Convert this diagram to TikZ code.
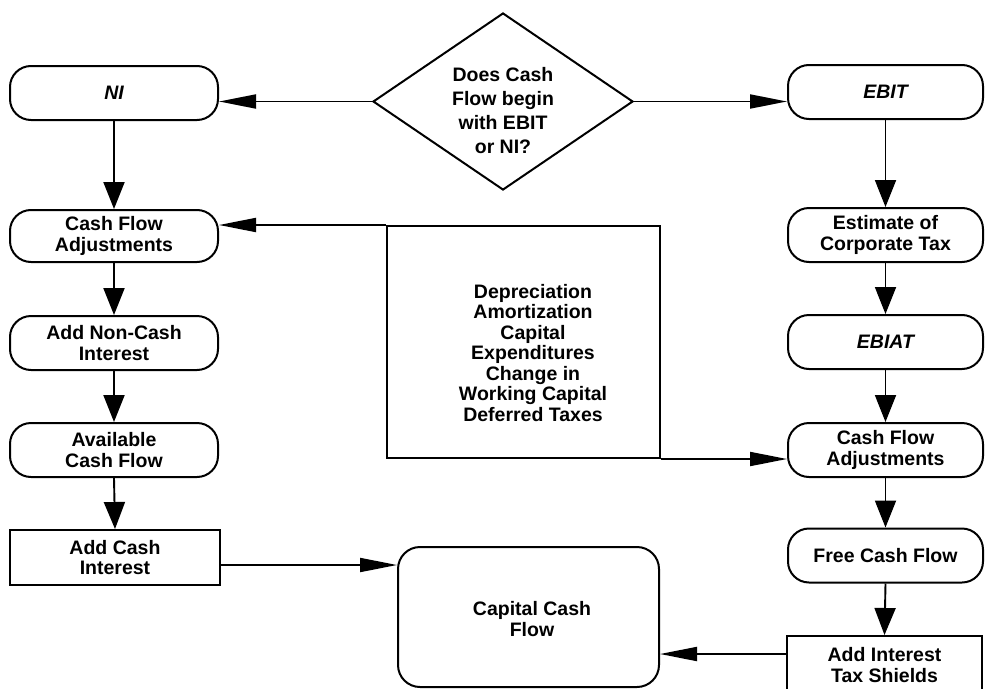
\documentclass[tikz,border=0pt]{standalone}
\usepackage{fontspec}
\setmainfont{Liberation Sans}
\usetikzlibrary{arrows.meta,shapes.geometric}
\tikzset{
  txt/.style={font={\fontsize{19.5}{20.5}\selectfont\bfseries}, align=center, inner sep=0pt},
  pill/.style={txt, draw, line width=2pt, rounded corners=21pt, minimum width=208pt, minimum height=54pt},
  rpill/.style={pill, minimum width=195pt},
  sqbox/.style={txt, draw, line width=2pt},
  harrow/.style={-{Triangle[length=37pt,width=14pt]}, line width=1.9pt},
  varrow/.style={-{Triangle[length=27pt,width=21pt]}, line width=1.9pt},
}
\begin{document}
\begin{tikzpicture}[x=1pt,y=-1pt]
\useasboundingbox (0,0) rectangle (985,688);
\clip (0,0) rectangle (985,688);
% decision
\node[draw, diamond, line width=2pt, inner sep=0pt, minimum width=260pt, minimum height=177pt] (dia) at (503,101.5) {};
\node[txt, font={\fontsize{19.5}{24}\selectfont\bfseries}] (diatxt) at (503,111) {Does Cash\\Flow begin\\with EBIT\\or NI?};
% left column
\node[pill] (ni) at (114,93) {\itshape NI};
\node[pill, minimum height=52pt] (cfaL) at (114,236) {Cash Flow\\Adjustments};
\node[pill] (nonc) at (114,343) {Add Non-Cash\\Interest};
\node[pill] (avail) at (114,450) {Available\\Cash Flow};
\node[sqbox, minimum width=210pt, minimum height=55pt] (addc) at (115,557.5) {Add Cash\\Interest};
% right column
\node[rpill] (ebit) at (885.5,92) {\itshape EBIT};
\node[rpill] (est) at (885.5,235) {Estimate of\\Corporate Tax};
\node[rpill] (ebiat) at (885.5,342) {\itshape EBIAT};
\node[rpill] (cfaR) at (885.5,450) {Cash Flow\\Adjustments};
\node[rpill] (fcf) at (885.5,555.5) {Free Cash Flow};
\node[sqbox, minimum width=195pt, minimum height=58pt] (aits) at (884.5,665) {Add Interest\\Tax Shields};
% middle
\node[sqbox, minimum width=273pt, minimum height=232pt] (mid) at (523.5,342) {};
\node[txt] (midtxt) at (533,353) {Depreciation\\Amortization\\Capital\\Expenditures\\Change in\\Working Capital\\Deferred Taxes};
\node[sqbox, rounded corners=22pt, minimum width=261pt, minimum height=140pt] (ccf) at (528.5,617) {};
\node[txt] (ccftxt) at (532,619) {Capital Cash\\Flow};
% connectors
\draw[harrow] (dia.west) -- (dia.west -| ni.east);
\draw[harrow] (dia.east) -- (dia.east -| ebit.west);
\draw[varrow] (ni.south) -- (cfaL.north);
\draw[varrow] (cfaL.south) -- (nonc.north);
\draw[varrow] (nonc.south) -- (avail.north);
\draw[varrow] (avail.south) -- (addc.north);
\draw[varrow] (ebit.south) -- (est.north);
\draw[varrow] (est.south) -- (ebiat.north);
\draw[varrow] (ebiat.south) -- (cfaR.north);
\draw[varrow] (cfaR.south) -- (fcf.north);
\draw[varrow] (fcf.south) -- (aits.north);
\draw[harrow] (mid.north west) -- (mid.north west -| cfaL.east);
\draw[harrow] (mid.south east) -- (mid.south east -| cfaR.west);
\coordinate (a1) at ([yshift=-7.5pt]addc.east);
\draw[harrow] (a1) -- (a1 -| ccf.west);
\coordinate (a2) at ([yshift=11pt]aits.west);
\draw[harrow] (a2) -- (a2 -| ccf.east);
\end{tikzpicture}
\end{document}
